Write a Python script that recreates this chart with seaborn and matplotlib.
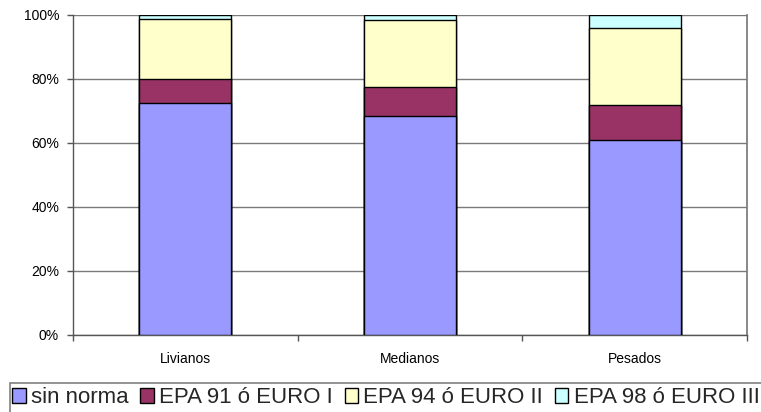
import matplotlib
matplotlib.use("Agg")
import matplotlib.pyplot as plt
from matplotlib.patches import Patch, Rectangle
from matplotlib.ticker import FixedLocator, FuncFormatter
import numpy as np
import pandas as pd
import seaborn as sns

# Share of vehicles by emission standard, per vehicle class (%)
categories = ["Livianos", "Medianos", "Pesados"]
series_names = ["sin norma", "EPA 91 ó EURO I", "EPA 94 ó EURO II", "EPA 98 ó EURO III"]
sin_norma = [72.4, 68.3, 61.0]
epa91 = [7.6, 9.2, 10.8]
epa94 = [18.75, 21.0, 24.2]
epa98 = [1.25, 1.5, 4.0]
colors = ["#9999FF", "#993366", "#FFFFCC", "#CCFFFF"]

sns.set_theme(style="white")
plt.rcParams["font.family"] = ["Liberation Sans", "DejaVu Sans"]

W, H = 761, 412
fig = plt.figure(figsize=(W / 100, H / 100), dpi=100)
ax = fig.add_axes([73 / W, 1 - 335 / H, (747 - 73) / W, 320 / H])

values = [sin_norma, epa91, epa94, epa98]
cum = np.cumsum(np.array(values), axis=0)

# Stacked bars: draw cumulative totals from the top series down
for i in range(len(series_names) - 1, -1, -1):
    df = pd.DataFrame({"cat": categories, "val": cum[i]})
    sns.barplot(data=df, x="cat", y="val", color=colors[i], width=0.41,
                edgecolor="black", linewidth=1.0, saturation=1, ax=ax, zorder=3)

ax.set_xlim(-0.5, 2.5)
ax.set_ylim(0, 100)
ax.set_xlabel("")
ax.set_ylabel("")

ax.yaxis.set_major_locator(FixedLocator([0, 20, 40, 60, 80, 100]))
ax.yaxis.set_major_formatter(FuncFormatter(lambda v, p: f"{int(v)}%"))
ax.grid(axis="y", color="#7a7a7a", linewidth=1.0, zorder=0)
ax.grid(axis="x", visible=False)

ax.tick_params(axis="y", which="major", direction="out", length=4, width=1,
               color="#555555", pad=6, labelsize=10, labelcolor="black", left=True)
ax.tick_params(axis="x", which="major", length=0, pad=12, labelsize=10, labelcolor="black")
ax.set_xticks([-0.5, 0.5, 1.5, 2.5], minor=True)
ax.tick_params(axis="x", which="minor", direction="out", length=4, width=1,
               color="#555555", bottom=True)

for side in ["left", "bottom"]:
    ax.spines[side].set_color("#555555")
    ax.spines[side].set_linewidth(1.0)
ax.spines["right"].set_color("#7a7a7a")
ax.spines["top"].set_visible(False)

# Legend box runs off the right and bottom edges of the figure
fig.patches.append(Rectangle((10 / W, -0.1), 1.0, 1 - 383 / H + 0.1,
                             transform=fig.transFigure, facecolor="white",
                             edgecolor="#808080", linewidth=1.2, zorder=1))

handles = [Patch(facecolor=c, edgecolor="black", linewidth=1.0) for c in colors]
leg = fig.legend(handles, series_names, loc="upper left",
                 bbox_to_anchor=(9 / W, 1 - 384 / H), ncol=4,
                 fontsize=16, frameon=False,
                 handlelength=0.6, handleheight=0.6, handletextpad=0.25,
                 columnspacing=0.52, borderpad=0.15, borderaxespad=0)
leg.set_zorder(2)

fig.savefig("out.png", dpi=100)
